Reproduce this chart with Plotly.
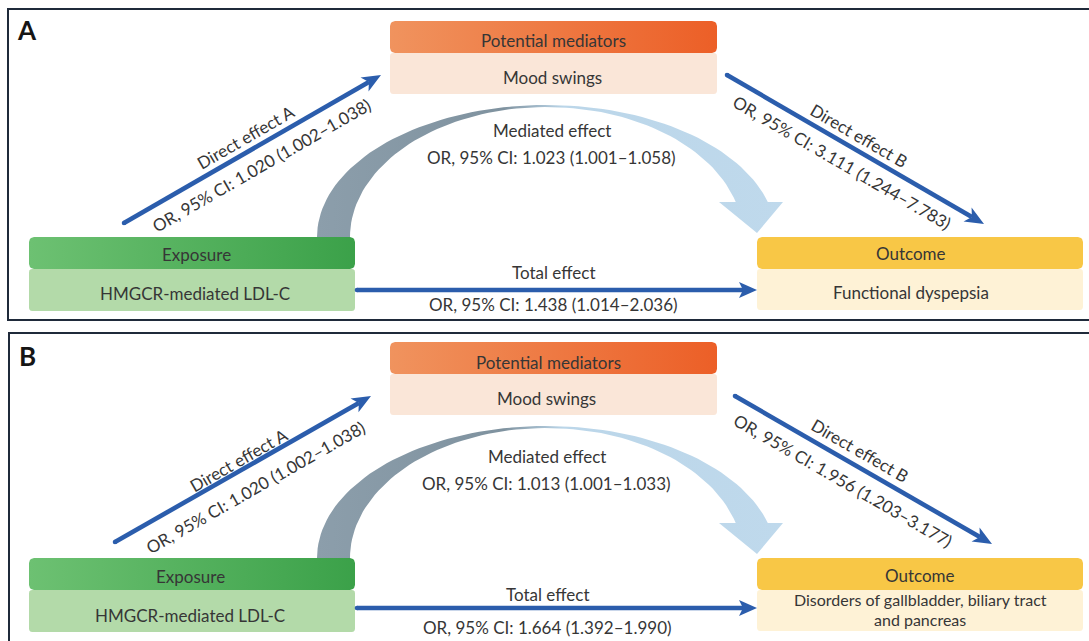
import numpy as np
import plotly.graph_objects as go

W, H = 1089, 641

# ---------------- data ----------------
panel_letters = ["A", "B"]
mediator_title = "Potential mediators"
exposure_title = "Exposure"
outcome_title = "Outcome"
mediator_names = ["Mood swings", "Mood swings"]
exposure_names = ["HMGCR-mediated LDL-C", "HMGCR-mediated LDL-C"]
outcome_names = [["Functional dyspepsia"],
                 ["Disorders of gallbladder, biliary tract", "and pancreas"]]
effect_a_label = "Direct effect A"
effect_b_label = "Direct effect B"
mediated_label = "Mediated effect"
total_label = "Total effect"
effect_a_or = [1.020, 1.020]
effect_a_lo = [1.002, 1.002]
effect_a_hi = [1.038, 1.038]
effect_b_or = [3.111, 1.956]
effect_b_lo = [1.244, 1.203]
effect_b_hi = [7.783, 3.177]
mediated_or = [1.023, 1.013]
mediated_lo = [1.001, 1.001]
mediated_hi = [1.058, 1.033]
total_or = [1.438, 1.664]
total_lo = [1.014, 1.392]
total_hi = [2.036, 1.990]


def ci_text(o, lo, hi):
    return f"OR, 95% CI: {o:.3f} ({lo:.3f}\u2013{hi:.3f})"


# ---------------- geometry (pixel layout) ----------------
panels = [
    dict(dy=0, frame=(8, 9, 1100, 320), letter=(27, 30),
         arrA=((124, 223), (381, 75)), arrB=((727, 75), (984, 224)),
         tot=((357, 290), (757, 290)),
         t_med=(553, 40), t_mood=(552, 77),
         t_exp=(196, 254), t_expn=(195, 293),
         t_out=(911, 253), t_outn=[(911, 292)], outn_size=17,
         t_medl=(552, 130), t_medv=(551, 157),
         t_totl=(553, 272), t_totv=(553, 304),
         t_al=(245, 137), t_av=(261, 165),
         t_bl=(859, 135), t_bv=(842, 162)),
    dict(dy=321, frame=(9, 333, 1100, 700), letter=(27, 356),
         arrA=((115, 542), (371, 396)), arrB=((735, 396), (992, 544)),
         tot=((357, 608), (757, 608)),
         t_med=(548, 362), t_mood=(546, 398),
         t_exp=(190, 576), t_expn=(190, 615),
         t_out=(920, 575), t_outn=[(920, 599), (920, 619)], outn_size=16,
         t_medl=(547, 456), t_medv=(546, 483),
         t_totl=(547, 594), t_totv=(547, 627),
         t_al=(238, 460), t_av=(255, 487),
         t_bl=(860, 450), t_bv=(843, 480)),
]

BLUE = "#2B5DAC"
TXT = "#363636"
FONT = "Lato"
FS = 17

fig = go.Figure()
shapes = []
annots = []


def rrect(x0, y0, x1, y1, r, n=6):
    xs, ys = [], []
    corners = [(x1 - r, y0 + r, -np.pi / 2, 0), (x1 - r, y1 - r, 0, np.pi / 2),
               (x0 + r, y1 - r, np.pi / 2, np.pi), (x0 + r, y0 + r, np.pi, 1.5 * np.pi)]
    for cx, cy, a0, a1 in corners:
        t = np.linspace(a0, a1, n)
        xs += list(cx + r * np.cos(t))
        ys += list(cy + r * np.sin(t))
    xs.append(xs[0]); ys.append(ys[0])
    return xs, ys


def add_poly(xs, ys, color=None, grad=None):
    kw = dict(x=xs, y=ys, mode="lines", fill="toself", line=dict(width=0),
              hoverinfo="skip", showlegend=False)
    if grad is not None:
        kw["fillgradient"] = dict(type="horizontal", colorscale=grad)
        kw["fillcolor"] = grad[0][1]
    else:
        kw["fillcolor"] = color
    fig.add_trace(go.Scatter(**kw))


def add_text(txt, pos, size=FS, angle=0, color=TXT, bold=False):
    annots.append(dict(x=pos[0], y=pos[1], xref="x", yref="y", text=f"<b>{txt}</b>" if bold else txt,
                       showarrow=False, textangle=angle, xanchor="center", yanchor="middle",
                       font=dict(family=FONT, size=size, color=color)))


def add_arrow(p0, p1, lw=4.6, L=19, Wd=8, N=5):
    p0 = np.array(p0, float); p1 = np.array(p1, float)
    d = (p1 - p0) / np.linalg.norm(p1 - p0)
    n = np.array([-d[1], d[0]])
    end = p1 - (L - N) * d
    shapes.append(dict(type="line", xref="x", yref="y", x0=p0[0], y0=p0[1], x1=end[0], y1=end[1],
                       line=dict(color=BLUE, width=lw)))
    r = lw / 2
    shapes.append(dict(type="circle", xref="x", yref="y", x0=p0[0] - r, x1=p0[0] + r,
                       y0=p0[1] - r, y1=p0[1] + r, fillcolor=BLUE, line=dict(width=0)))
    b1 = p1 - L * d + Wd * n
    b2 = p1 - L * d - Wd * n
    m = p1 - (L - N) * d
    path = f"M{p1[0]},{p1[1]} L{b1[0]},{b1[1]} L{m[0]},{m[1]} L{b2[0]},{b2[1]} Z"
    shapes.append(dict(type="path", xref="x", yref="y", path=path, fillcolor=BLUE, line=dict(width=0)))
    return np.degrees(np.arctan2(p1[1] - p0[1], p1[0] - p0[0]))


for i, P in enumerate(panels):
    dy = P["dy"]
    fx0, fy0, fx1, fy1 = P["frame"]
    shapes.append(dict(type="rect", xref="x", yref="y", x0=fx0, y0=fy0, x1=fx1, y1=fy1,
                       line=dict(color="#1f2a3a", width=2), fillcolor="rgba(0,0,0,0)"))
    add_text(panel_letters[i], P["letter"], size=26, color="#151515", bold=True)

    # mediated-effect curved arrow
    cx, cy = 546.5, 237 + dy
    t_o = np.linspace(np.pi, np.arcsin(35 / 132), 80)
    t_i = np.linspace(np.arcsin(35 / 130), np.pi, 80)
    ox = cx + 229.5 * np.cos(t_o); oy = cy - 132 * np.sin(t_o)
    ix = cx + 196.5 * np.cos(t_i); iy = cy - 130 * np.sin(t_i)
    hx = [783, 757, 719]; hy = [202 + dy, 233 + dy, 202 + dy]
    xs = list(ox) + hx + list(ix) + [ox[0]]
    ys = list(oy) + hy + list(iy) + [oy[0]]
    add_poly(xs, ys, grad=[[0, "#8C9EAB"], [0.40, "#7F929F"], [0.53, "#BBD6E9"], [1, "#BFD9EC"]])

    # boxes
    bx, by = rrect(390, 53 + dy, 717, 94 + dy, 3)
    add_poly(bx, by, color="#FAE6D8")
    bx, by = rrect(390, 21 + dy, 717, 53 + dy, 5)
    add_poly(bx, by, grad=[[0, "#F0935E"], [1, "#EC5F27"]])

    bx, by = rrect(29, 269 + dy, 355, 311 + dy, 3)
    add_poly(bx, by, color="#B3DAA9")
    bx, by = rrect(29, 237 + dy, 355, 269 + dy, 5)
    add_poly(bx, by, grad=[[0, "#6DC172"], [1, "#3BA149"]])

    bx, by = rrect(757, 269 + dy, 1083, 310 + dy, 3)
    add_poly(bx, by, color="#FEF2D6")
    bx, by = rrect(757, 237 + dy, 1083, 269 + dy, 5)
    add_poly(bx, by, color="#F8C746")

    # straight arrows
    angA = add_arrow(*P["arrA"])
    angB = add_arrow(*P["arrB"])
    add_arrow(*P["tot"], L=18, Wd=8, N=4)

    # texts
    add_text(mediator_title, P["t_med"])
    add_text(mediator_names[i], P["t_mood"])
    add_text(exposure_title, P["t_exp"])
    add_text(exposure_names[i], P["t_expn"])
    add_text(outcome_title, P["t_out"])
    for line, pos in zip(outcome_names[i], P["t_outn"]):
        add_text(line, pos, size=P["outn_size"])
    add_text(mediated_label, P["t_medl"])
    add_text(ci_text(mediated_or[i], mediated_lo[i], mediated_hi[i]), P["t_medv"])
    add_text(total_label, P["t_totl"])
    add_text(ci_text(total_or[i], total_lo[i], total_hi[i]), P["t_totv"])
    add_text(effect_a_label, P["t_al"], angle=angA)
    add_text(ci_text(effect_a_or[i], effect_a_lo[i], effect_a_hi[i]), P["t_av"], angle=angA)
    add_text(effect_b_label, P["t_bl"], angle=angB)
    add_text(ci_text(effect_b_or[i], effect_b_lo[i], effect_b_hi[i]), P["t_bv"], angle=angB)

fig.update_layout(
    width=W, height=H, margin=dict(l=0, r=0, t=0, b=0),
    paper_bgcolor="white", plot_bgcolor="white",
    xaxis=dict(range=[0, W], visible=False, fixedrange=True),
    yaxis=dict(range=[H, 0], visible=False, fixedrange=True),
    shapes=shapes, annotations=annots, showlegend=False,
)
fig.write_html("out.html")
